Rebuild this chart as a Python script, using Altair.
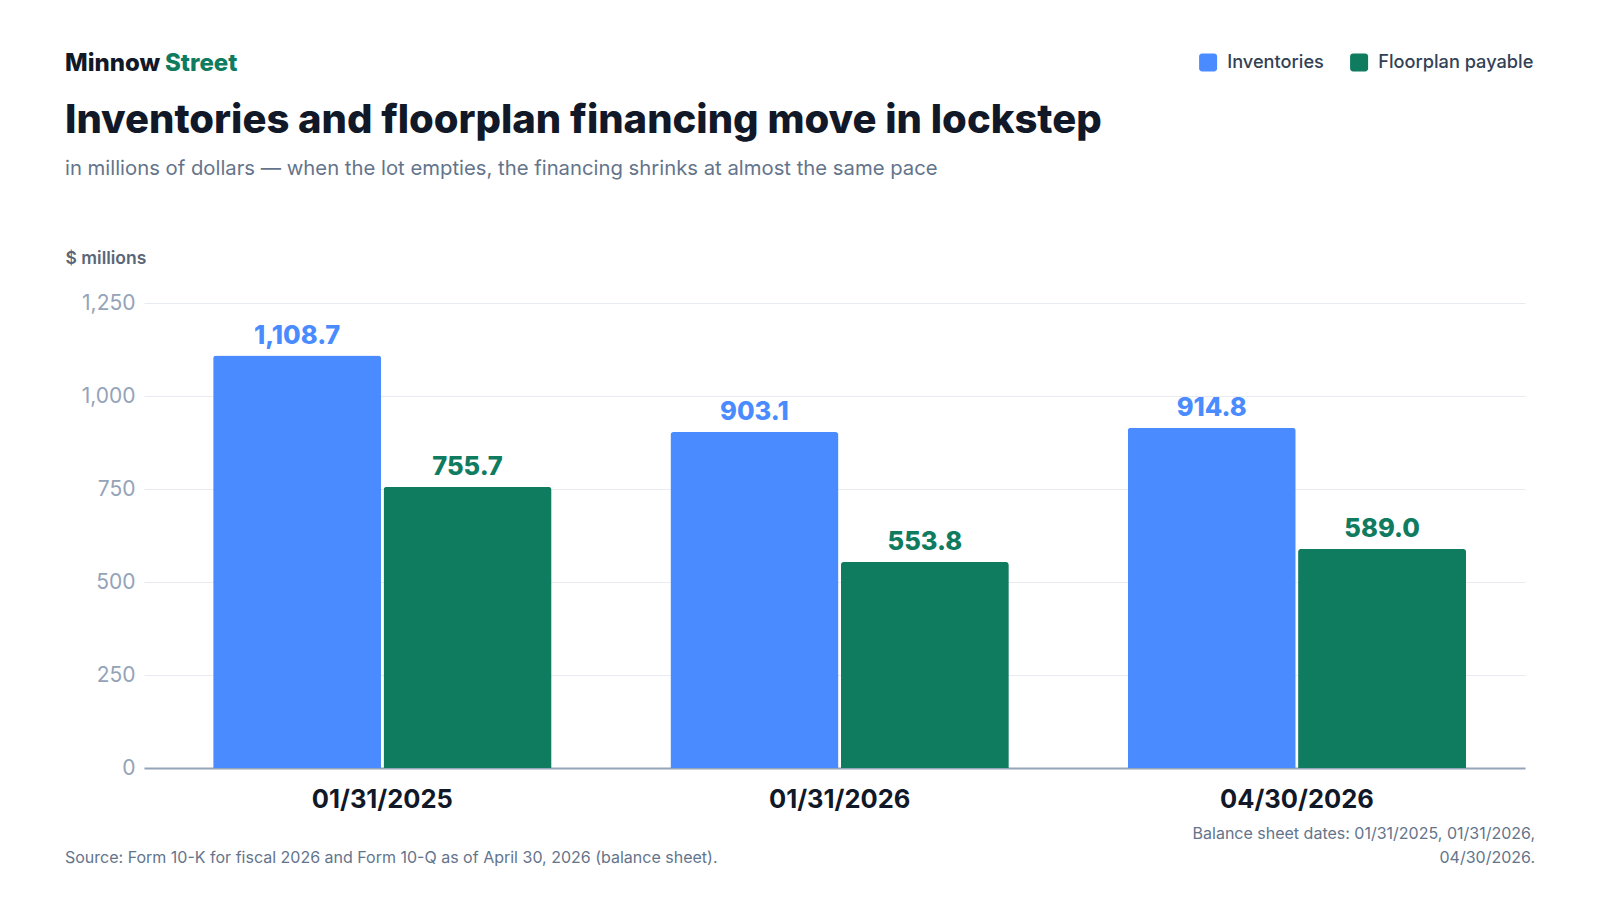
import altair as alt
import pandas as pd

# ---- data ----
dates = ["01/31/2025", "01/31/2026", "04/30/2026"]
inventories = [1108.7, 903.1, 914.8]
floorplan = [755.7, 553.8, 589.0]
series_names = ["Inventories", "Floorplan payable"]
series_colors = ["#4A8CFF", "#0F7B5F"]
y_ticks = [0, 250, 500, 750, 1000, 1250]

brand_left = "Minnow"
brand_right = "Street"
title_text = "Inventories and floorplan financing move in lockstep"
subtitle_text = "in millions of dollars — when the lot empties, the financing shrinks at almost the same pace"
y_title = "$ millions"
source_text = "Source: Form 10-K for fiscal 2026 and Form 10-Q as of April 30, 2026 (balance sheet)."
note_lines = ["Balance sheet dates: 01/31/2025, 01/31/2026,", "04/30/2026."]

rows = []
for d, a, b in zip(dates, inventories, floorplan):
    rows.append({"date": d, "series": series_names[0], "value": a})
    rows.append({"date": d, "series": series_names[1], "value": b})
df = pd.DataFrame(rows)

FONT = "Inter"
W, H = 1381, 465

rounded_sq = ("M -0.67,-1 H 0.67 A 0.33 0.33 0 0 1 1,-0.67 V 0.67 A 0.33 0.33 0 0 1 0.67,1 "
              "H -0.67 A 0.33 0.33 0 0 1 -1,0.67 V -0.67 A 0.33 0.33 0 0 1 -0.67,-1 Z")

x_enc = alt.X(
    "date:N", sort=dates, title=None,
    scale=alt.Scale(paddingInner=0.26, paddingOuter=0.14, align=0.54),
    axis=alt.Axis(
        labelAngle=0, labelFont=FONT, labelFontSize=25.5, labelFontWeight=700,
        labelColor="#111827", labelPadding=39, labelBaseline="alphabetic",
        ticks=False, domainColor="#94A3B8", domainWidth=2, grid=False,
    ),
)
xoff_enc = alt.XOffset("series:N", sort=series_names,
                       scale=alt.Scale(paddingInner=0.014, paddingOuter=0))
y_enc = alt.Y(
    "value:Q",
    scale=alt.Scale(domain=[0, 1250], nice=False),
    axis=alt.Axis(
        values=y_ticks, format=",.0f", title=y_title, titleAngle=0, titleX=-79, titleY=-40,
        titleAlign="left", titleBaseline="alphabetic", titleFont=FONT, titleFontSize=17.5,
        titleFontWeight=600, titleColor="#5A6678",
        labelFont=FONT, labelFontSize=21, labelColor="#94A3B8", labelPadding=9,
        ticks=False, domain=False, gridColor="#E8EBF0", gridWidth=1,
    ),
)
color_scale = alt.Scale(domain=series_names, range=series_colors)

bars = alt.Chart(df).mark_bar(cornerRadiusTopLeft=3, cornerRadiusTopRight=3).encode(
    x=x_enc, xOffset=xoff_enc, y=y_enc,
    color=alt.Color(
        "series:N", scale=color_scale, sort=series_names,
        legend=alt.Legend(
            orient="none", legendX=1055, legendY=-250, direction="horizontal", title=None,
            symbolType=rounded_sq, symbolSize=324, symbolStrokeWidth=0, symbolOpacity=1,
            labelFont=FONT, labelFontSize=18.2, labelFontWeight=500, labelColor="#334155",
            labelOffset=10, columnPadding=26,
        ),
    ),
)

labels = alt.Chart(df).mark_text(
    font=FONT, fontSize=25.5, fontWeight=800, dy=-12, baseline="alphabetic", align="center"
).encode(
    x=alt.X("date:N", sort=dates), xOffset=alt.XOffset("series:N", sort=series_names),
    y="value:Q",
    text=alt.Text("value:Q", format=",.1f"),
    color=alt.Color("series:N", scale=color_scale, legend=None),
)


def txt(s, x, y, size, color, weight="normal", align="left"):
    return alt.Chart(pd.DataFrame({"t": [s]})).mark_text(
        font=FONT, fontSize=size, fontWeight=weight, color=color, align=align,
        baseline="alphabetic",
    ).encode(text="t:N", x=alt.value(x), y=alt.value(y))


annots = [
    txt(brand_left, -79, -232, 24, "#111827", 800),
    txt(brand_right, 21, -232, 24, "#0F7B5F", 800),
    txt(title_text, -79, -170, 40, "#111827", 800),
    txt(subtitle_text, -79, -128, 20.3, "#64748B"),
    txt(source_text, -79, 560, 16, "#64748B"),
    txt(note_lines[0], 1391, 536, 16, "#64748B", align="right"),
    txt(note_lines[1], 1391, 560, 16, "#64748B", align="right"),
]

chart = alt.layer(bars, labels, *annots).properties(
    width=W, height=H,
    autosize=alt.AutoSizeParams(type="none"),
    padding={"left": 136, "top": 295, "right": 67, "bottom": 124},
    background="white",
).configure_view(stroke=None)

chart.save("out.html", embed_options={"renderer": "svg", "actions": False})
